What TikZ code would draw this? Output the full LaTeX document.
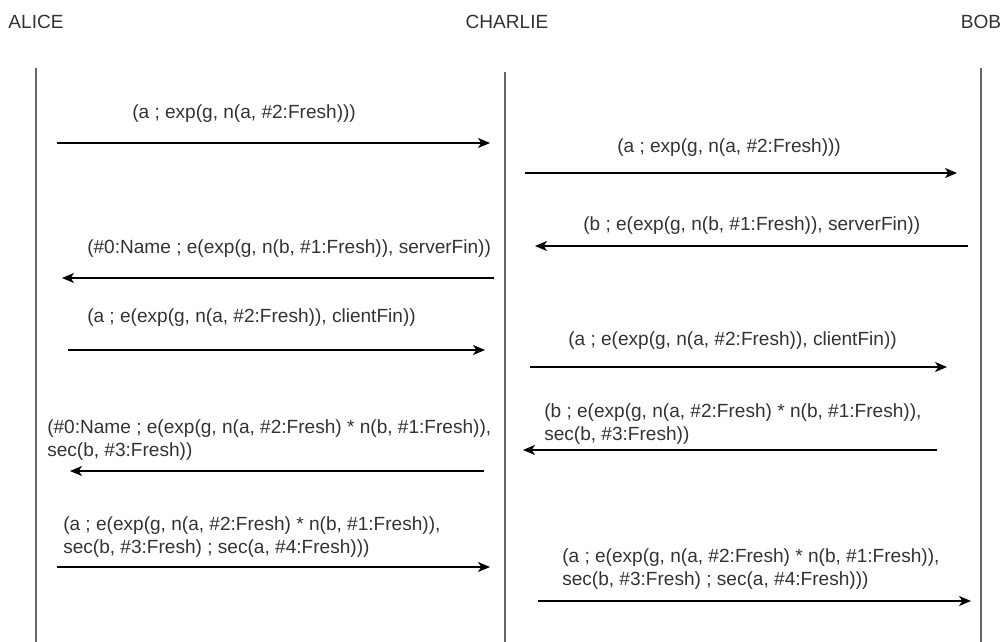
\documentclass[tikz,border=0pt]{standalone}
\usepackage{fontspec}
\setmainfont{Liberation Sans}
\usetikzlibrary{arrows.meta}
\definecolor{txt}{HTML}{333333}
\definecolor{life}{HTML}{666666}
\tikzset{
  actor/.style={anchor=base, inner sep=0pt, text=txt, font=\fontsize{14.3}{17.25}\selectfont},
  msglabel/.style={anchor=base west, inner sep=0pt, align=left, text=txt, font=\fontsize{14.3}{17.25}\selectfont},
  lifeline/.style={draw=life, line width=1.1pt},
  msg/.style={draw=black, line width=0.9pt, -{Stealth[length=9pt,width=7.5pt,inset=2.5pt]}}
}
\begin{document}
\begin{tikzpicture}[x=0.75pt,y=-0.75pt]
\useasboundingbox (0,0) rectangle (1006,642);

% participants
\node[actor] (alice)   at (36,29)  {ALICE};
\node[actor] (charlie) at (507,29) {CHARLIE};
\node[actor] (bob)     at (981,29) {BOB};

% lifelines
\coordinate (aTop) at (36,68);   \coordinate (aBot) at (36,642);
\coordinate (cTop) at (505,72);  \coordinate (cBot) at (505,642);
\coordinate (bTop) at (981,68);  \coordinate (bBot) at (981,642);
\draw[lifeline] (aTop) -- (aBot);
\draw[lifeline] (cTop) -- (cBot);
\draw[lifeline] (bTop) -- (bBot);

% message end points
\coordinate (m1s) at (57,143);   \coordinate (m1e) at (490,143);
\coordinate (m2s) at (525,173);  \coordinate (m2e) at (957,173);
\coordinate (m3s) at (968,246);  \coordinate (m3e) at (535,246);
\coordinate (m4s) at (494,278);  \coordinate (m4e) at (62,278);
\coordinate (m5s) at (68,350);   \coordinate (m5e) at (485,350);
\coordinate (m6s) at (530,367);  \coordinate (m6e) at (947,367);
\coordinate (m7s) at (937,450);  \coordinate (m7e) at (523,450);
\coordinate (m8s) at (484,471);  \coordinate (m8e) at (70,471);
\coordinate (m9s) at (57,567);   \coordinate (m9e) at (490,567);
\coordinate (m10s) at (538,601); \coordinate (m10e) at (971,601);

\draw[msg] (m1s) -- (m1e);
\draw[msg] (m2s) -- (m2e);
\draw[msg] (m3s) -- (m3e);
\draw[msg] (m4s) -- (m4e);
\draw[msg] (m5s) -- (m5e);
\draw[msg] (m6s) -- (m6e);
\draw[msg] (m7s) -- (m7e);
\draw[msg] (m8s) -- (m8e);
\draw[msg] (m9s) -- (m9e);
\draw[msg] (m10s) -- (m10e);

% message labels (two-line labels sit on the baseline of their last line)
\node[msglabel] (l1) at (132,118.5) {(a ; exp(g, n(a, \#2:Fresh)))};
\node[msglabel] (l2) at (617,152.5) {(a ; exp(g, n(a, \#2:Fresh)))};
\node[msglabel] (l3) at (583,230.5) {(b ; e(exp(g, n(b, \#1:Fresh)), serverFin))};
\node[msglabel] (l4) at (87,253.5) {(\#0:Name ; e(exp(g, n(b, \#1:Fresh)), serverFin))};
\node[msglabel] (l5) at (87,322.5) {(a ; e(exp(g, n(a, \#2:Fresh)), clientFin))};
\node[msglabel] (l6) at (568,345.5) {(a ; e(exp(g, n(a, \#2:Fresh)), clientFin))};
\node[msglabel] (l7) at (544,440.5) {(b ; e(exp(g, n(a, \#2:Fresh) * n(b, \#1:Fresh)),\\sec(b, \#3:Fresh))};
\node[msglabel] (l8) at (47,456.5) {(\#0:Name ; e(exp(g, n(a, \#2:Fresh) * n(b, \#1:Fresh)),\\sec(b, \#3:Fresh))};
\node[msglabel] (l9) at (63,553.5) {(a ; e(exp(g, n(a, \#2:Fresh) * n(b, \#1:Fresh)),\\sec(b, \#3:Fresh) ; sec(a, \#4:Fresh)))};
\node[msglabel] (l10) at (562,585.5) {(a ; e(exp(g, n(a, \#2:Fresh) * n(b, \#1:Fresh)),\\sec(b, \#3:Fresh) ; sec(a, \#4:Fresh)))};
\end{tikzpicture}
\end{document}
